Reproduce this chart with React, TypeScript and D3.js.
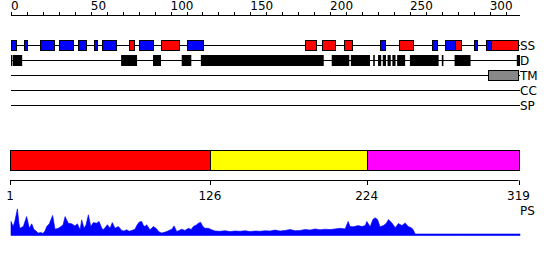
import React from "react";
import * as d3 from "d3";

// Secondary structure segments [start, end, type] (H = helix red, E = strand blue)
const ssSegments: [number, number, string][] = [
  [0, 3, "E"], [8, 10, "E"], [18, 27, "E"], [30, 39, "E"], [42, 47, "E"],
  [52, 54, "E"], [57, 66, "E"], [74, 77, "H"], [80, 89, "E"], [94, 105, "H"],
  [110, 120, "E"], [184, 191, "H"], [195, 203, "H"], [209, 214, "H"],
  [231, 234, "E"], [243, 252, "H"], [264, 267, "E"], [272, 278, "E"],
  [278, 282, "H"], [290, 292, "E"], [298, 301, "E"], [301, 318, "H"],
];

// Disorder segments
const disorderSegments: [number, number][] = [
  [0, 0.6], [1, 7], [69, 79], [89, 94], [107, 113], [119, 196], [201, 212],
  [213, 225], [227, 228], [230, 232], [233, 235], [236, 238], [239, 241],
  [242, 247], [250, 268], [270, 271], [278, 288], [317, 319],
];

// Transmembrane segments
const tmSegments: [number, number][] = [[299, 318]];

const rowLabels = ["SS", "D", "TM", "CC", "SP"];

const topTicks = [0, 50, 100, 150, 200, 250, 300];

// Domain boundaries
const domainStarts = [1, 126, 224];
const domainEnds = [126, 224, 319];
const domainColors = ["#ff0000", "#ffff00", "#ff00ff"];
const bottomTicks = [1, 126, 224, 319];

// PS profile (residue, score)
const psResidues = [
  0, 1.4, 2.5, 4, 5, 5.6, 7.7, 9.8, 11.5, 13, 14.4, 15.7, 17, 18.8, 20, 21.3,
  22.4, 24, 26.1, 27.6, 29.7, 31.3, 32.6, 33.9, 35.9, 38, 40.1, 41.6, 43.3,
  44.3, 45.8, 47, 48.5, 50, 51.6, 53.7, 55.2, 56.9, 57.9, 60.4, 62.1, 63.5,
  65.2, 67.3, 69.4, 70.8, 72.5, 74, 75.7, 77.7, 79, 80.4, 81.9, 83, 84, 85,
  87.1, 89.2, 90.9, 92.8, 94.5, 97.6, 99, 100.8, 102.2, 103.9, 107, 109, 111.2,
  112.9, 114.3, 116.4, 117.4, 118.9, 120.2, 121.6, 123.7, 125.8, 127.9, 131,
  134.2, 137.3, 140.4, 143.6, 146.7, 149.8, 153, 156.1, 159.2, 162.4, 165.5,
  168.7, 171.8, 174.9, 178.1, 181.2, 184.3, 187.5, 190.6, 193.7, 196.9, 200,
  203.1, 206.3, 209.4, 211.3, 212.5, 214.4, 217.6, 220, 222, 223, 225.1, 226.8,
  228.2, 229.7, 231.3, 233.4, 235.1, 236.6, 238.7, 240.8, 242.8, 245, 247,
  248.9, 250.8, 252, 253.3, 280, 319,
];
const psScores = [
  0.47, 0.3, 0.5, 0.89, 0.4, 0.24, 0.3, 0.63, 0.24, 0.39, 0.2, 0.15, 0.08, 0.1,
  0.07, 0.15, 0.3, 0.39, 0.67, 0.21, 0.24, 0.3, 0.35, 0.63, 0.41, 0.39, 0.32,
  0.39, 0.19, 0.52, 0.24, 0.35, 0.69, 0.3, 0.43, 0.41, 0.47, 0.24, 0.19, 0.36,
  0.24, 0.43, 0.24, 0.3, 0.17, 0.15, 0.19, 0.14, 0.17, 0.21, 0.35, 0.45, 0.47,
  0.33, 0.3, 0.36, 0.19, 0.3, 0.24, 0.12, 0.08, 0.13, 0.17, 0.21, 0.32, 0.13,
  0.21, 0.17, 0.24, 0.2, 0.3, 0.36, 0.41, 0.44, 0.3, 0.24, 0.24, 0.19, 0.15,
  0.14, 0.16, 0.13, 0.15, 0.14, 0.16, 0.13, 0.15, 0.14, 0.16, 0.15, 0.18, 0.15,
  0.17, 0.2, 0.16, 0.17, 0.2, 0.18, 0.22, 0.19, 0.21, 0.2, 0.22, 0.24, 0.22,
  0.47, 0.3, 0.29, 0.33, 0.3, 0.33, 0.47, 0.29, 0.53, 0.59, 0.53, 0.29, 0.33,
  0.4, 0.53, 0.42, 0.26, 0.4, 0.33, 0.42, 0.3, 0.26, 0.2, 0.05, 0.05, 0.05,
];

const FONT = "DejaVu Sans, sans-serif";

export default function App() {
  const x = d3.scaleLinear().domain([0, 319]).range([11, 520]);
  const xb = d3.scaleLinear().domain([1, 319]).range([10, 518.5]);
  const rowY = d3.scalePoint<string>().domain(rowLabels).range([45, 105]);
  const yPs = d3.scaleLinear().domain([0, 1]).range([235.5, 205.5]);

  const minorTicks = d3.range(0, 320, 10);

  const psData = psResidues.map((r, i) => ({ r, v: psScores[i] }));
  const area = d3
    .area<{ r: number; v: number }>()
    .x((d) => x(d.r))
    .y0(yPs(0))
    .y1((d) => yPs(d.v));

  const ssColor = (t: string) => (t === "H" ? "#ff0000" : "#0000ff");

  return (
    <svg
      width={550}
      height={260}
      style={{ position: "absolute", left: 0, top: 0, background: "#fff" }}
      fontFamily={FONT}
    >
      {/* top ruler */}
      <line x1={x(0)} x2={x(319)} y1={15.5} y2={15.5} stroke="#000" />
      {minorTicks.map((t) => (
        <line key={t} x1={Math.round(x(t)) + 0.5} x2={Math.round(x(t)) + 0.5} y1={12} y2={15.5} stroke="#000" />
      ))}
      {topTicks.map((t) => (
        <text key={t} x={x(t)} y={10} fontSize={12} fill="#000">
          {t}
        </text>
      ))}

      {/* rows */}
      {rowLabels.map((lab) => (
        <g key={lab}>
          <line x1={x(0)} x2={x(319)} y1={rowY(lab)! + 0.5} y2={rowY(lab)! + 0.5} stroke="#000" />
          <text x={520} y={rowY(lab)! + 5} fontSize={12} fill="#000">
            {lab}
          </text>
        </g>
      ))}

      {ssSegments.map(([s, e, t], i) => (
        <rect
          key={i}
          x={Math.round(x(s)) + 0.5}
          y={rowY("SS")! - 4.5}
          width={Math.max(1, Math.round(x(e) - x(s)))}
          height={10}
          fill={ssColor(t)}
          stroke="#000"
        />
      ))}

      {disorderSegments.map(([s, e], i) => (
        <rect
          key={i}
          x={x(s)}
          y={rowY("D")! - 5}
          width={Math.max(1, x(e) - x(s))}
          height={11}
          fill="#000"
        />
      ))}

      {tmSegments.map(([s, e], i) => (
        <rect
          key={i}
          x={Math.round(x(s)) + 0.5}
          y={rowY("TM")! - 4.5}
          width={Math.round(x(e) - x(s))}
          height={10}
          fill="#888888"
          stroke="#000"
        />
      ))}

      {/* domains */}
      {domainStarts.map((s, i) => (
        <rect
          key={i}
          x={Math.round(xb(s)) + 0.5}
          y={150.5}
          width={Math.round(xb(domainEnds[i]) - xb(s))}
          height={20}
          fill={domainColors[i]}
          stroke="#000"
        />
      ))}

      {/* bottom axis */}
      <line x1={xb(1)} x2={xb(319)} y1={180.5} y2={180.5} stroke="#000" />
      {bottomTicks.map((t) => (
        <g key={t}>
          <line x1={Math.round(xb(t)) + 0.5} x2={Math.round(xb(t)) + 0.5} y1={180.5} y2={185} stroke="#000" />
          <text x={xb(t)} y={200} fontSize={12} textAnchor="middle" fill="#000">
            {t}
          </text>
        </g>
      ))}
      <text x={520} y={215} fontSize={12} fill="#000">
        PS
      </text>

      {/* PS profile */}
      <path d={area(psData) || ""} fill="#0000ff" stroke="#0000ff" strokeWidth={0.6} />
    </svg>
  );
}
